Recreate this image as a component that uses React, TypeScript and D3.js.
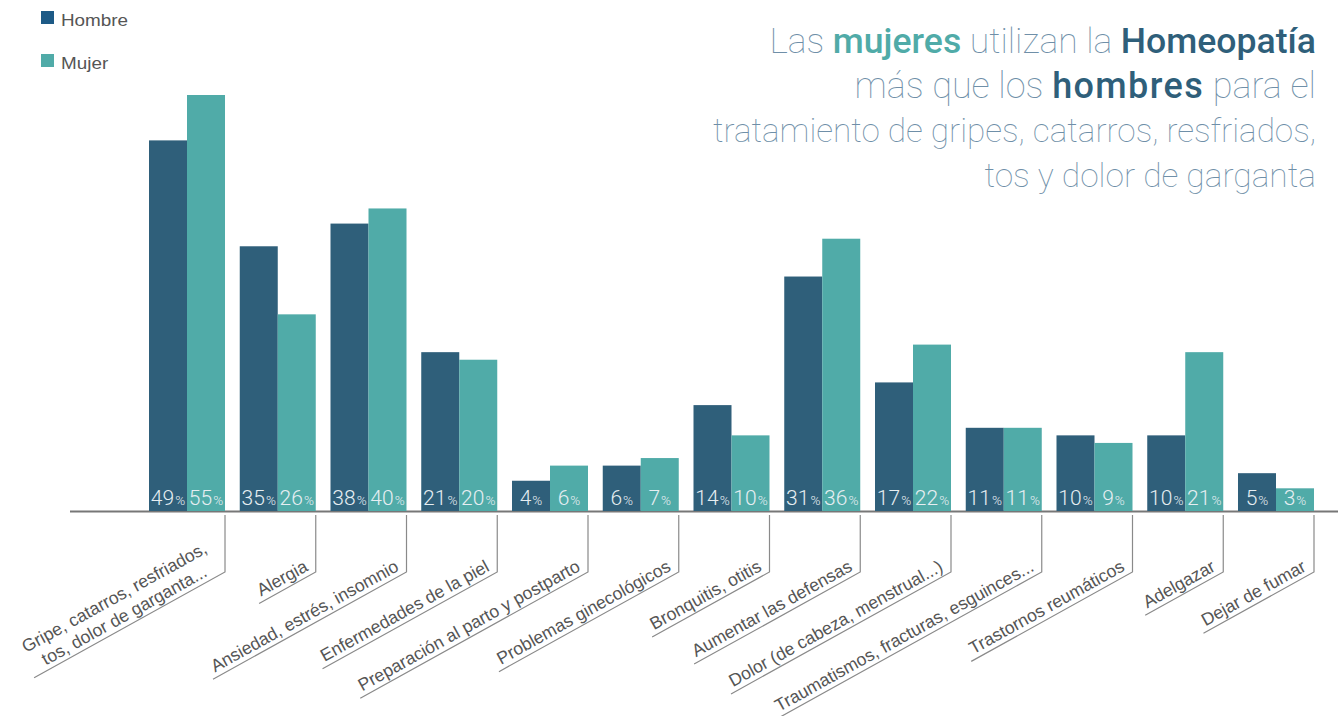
import React, { useEffect, useRef } from 'react';
import * as d3 from 'd3';

const categories = [
  'Gripe', 'Alergia', 'Ansiedad', 'Piel', 'Parto', 'Gineco', 'Bronquitis',
  'Defensas', 'Dolor', 'Traumatismos', 'Reumaticos', 'Adelgazar', 'Fumar',
];
const categoryLabels: string[][] = [
  ['Gripe, catarros, resfriados,', 'tos, dolor de garganta...'],
  ['Alergia'],
  ['Ansiedad, estrés, insomnio'],
  ['Enfermedades de la piel'],
  ['Preparación al parto y postparto'],
  ['Problemas ginecológicos'],
  ['Bronquitis, otitis'],
  ['Aumentar las defensas'],
  ['Dolor (de cabeza, menstrual...)'],
  ['Traumatismos, fracturas, esguinces...'],
  ['Trastornos reumáticos'],
  ['Adelgazar'],
  ['Dejar de fumar'],
];
const hombreValues = [49, 35, 38, 21, 4, 6, 14, 31, 17, 11, 10, 10, 5];
const mujerValues = [55, 26, 40, 20, 6, 7, 10, 36, 22, 11, 9, 21, 3];
const seriesNames = ['Hombre', 'Mujer'];
const titleLines: { t: string; k: 'l' | 'm' | 'h' }[][] = [
  [{ t: 'Las ', k: 'l' }, { t: 'mujeres', k: 'm' }, { t: ' utilizan la ', k: 'l' }, { t: 'Homeopatía', k: 'h' }],
  [{ t: 'más que los ', k: 'l' }, { t: 'hombres', k: 'h' }, { t: ' para el', k: 'l' }],
  [{ t: 'tratamiento de gripes, catarros, resfriados,', k: 'l' }],
  [{ t: 'tos y dolor de garganta', k: 'l' }],
];
const titleSizes = [35.6, 36, 33.3, 33.5];

const COLORS: Record<string, string> = { Hombre: '#2f5f7a', Mujer: '#50aba8' };
const LEGEND_COLORS: Record<string, string> = { Hombre: '#1d5a86', Mujer: '#50aba8' };
const TITLE_COLORS = { l: '#6f8fa8', m: '#50aba8', h: '#2f5f7a' };

export default function App() {
  const ref = useRef<SVGSVGElement | null>(null);

  useEffect(() => {
    const svg = d3.select(ref.current);
    svg.selectAll('*').remove();
    const W = 1338;
    const baseY = 511;

    const x = d3.scaleBand<string>().domain(categories).range([149, 1314]).paddingInner(0.1625).paddingOuter(0);
    const xs = d3.scaleBand<string>().domain(seriesNames).range([0, x.bandwidth()]);
    const y = d3.scaleLinear().domain([0, 55]).range([baseY, 95]);

    const data = categories.map((c, i) => ({ c, i, vals: [hombreValues[i], mujerValues[i]] }));

    // axis line
    svg.append('line').attr('x1', 70).attr('x2', W).attr('y1', baseY + 0.5).attr('y2', baseY + 0.5)
      .attr('stroke', '#777').attr('stroke-width', 2);

    // bars
    const g = svg.append('g');
    const groups = g.selectAll('g.grp').data(data).join('g').attr('transform', d => `translate(${x(d.c)},0)`);
    groups.selectAll('rect').data(d => d.vals.map((v, j) => ({ v, s: seriesNames[j] }))).join('rect')
      .attr('x', d => xs(d.s)!)
      .attr('width', xs.bandwidth())
      .attr('y', d => y(d.v))
      .attr('height', d => baseY - y(d.v))
      .attr('fill', d => COLORS[d.s]);

    const vt = groups.selectAll('text.val').data(d => d.vals.map((v, j) => ({ v, s: seriesNames[j] }))).join('text')
      .attr('class', 'val')
      .attr('x', d => xs(d.s)! + xs.bandwidth() / 2)
      .attr('y', baseY - 6)
      .attr('text-anchor', 'middle')
      .attr('fill', '#e6eef2')
      .style('font-family', 'Roboto, "Liberation Sans", sans-serif')
      .style('font-weight', 300);
    vt.append('tspan').attr('font-size', 21).text(d => String(d.v));
    vt.append('tspan').attr('font-size', 13.5).attr('dx', 1).text('%');

    // category labels with leader lines
    const ang = 29;
    const rad = (ang * Math.PI) / 180;
    const cornerY = 572;
    data.forEach((d, i) => {
      const tx = x(d.c)! + x.bandwidth();
      const lg = svg.append('g');
      const lines = categoryLabels[i];
      const tg = lg.append('g');
      const texts = lines.map(() => tg.append('text'));
      lines.forEach((ln, k) => {
        texts[k].text(ln)
          .attr('text-anchor', 'middle')
          .attr('font-size', 17.6)
          .attr('fill', '#555')
          .style('font-family', '"Liberation Sans", Arial, sans-serif');
      });
      const maxW = d3.max(texts, t => (t.node() as SVGTextElement).getComputedTextLength()) || 0;
      const L = maxW + 10;
      const ex = tx - L * Math.cos(rad);
      const ey = cornerY + L * Math.sin(rad);
      lg.append('path')
        .attr('d', `M${tx},${baseY + 4}L${tx},${cornerY}L${ex},${ey}`)
        .attr('fill', 'none').attr('stroke', '#8a8a8a').attr('stroke-width', 1.2);
      const mx = (tx + ex) / 2, my = (cornerY + ey) / 2;
      tg.attr('transform', `translate(${mx},${my}) rotate(${-ang})`);
      texts.forEach((t, k) => t.attr('x', 0).attr('y', -5 - (lines.length - 1 - k) * 20.5));
    });

    // legend
    const lg = svg.append('g');
    seriesNames.forEach((s, j) => {
      lg.append('rect').attr('x', 41).attr('y', 11 + j * 43).attr('width', 13).attr('height', 13).attr('fill', LEGEND_COLORS[s]);
      lg.append('text').attr('transform', `translate(61,${25.5 + j * 43}) scale(1.18,1)`).text(s)
        .attr('font-size', 16).attr('fill', '#555')
        .style('font-family', '"Liberation Sans", Arial, sans-serif');
    });

    // title
    const tt = svg.append('g');
    titleLines.forEach((ln, k) => {
      const t = tt.append('text').attr('x', 1316).attr('y', 53 + k * 44.5).attr('text-anchor', 'end')
        .attr('font-size', titleSizes[k])
        .style('font-family', 'Roboto, "Liberation Sans", sans-serif');
      ln.forEach(seg => {
        const sp = t.append('tspan').text(seg.t).attr('fill', TITLE_COLORS[seg.k])
          .style('font-weight', seg.k === 'l' ? 100 : 500);
        if (seg.t === 'hombres') sp.attr('letter-spacing', 1.4);
      });
    });
  }, []);

  return (
    <svg ref={ref} width={1338} height={716}
      style={{ position: 'absolute', left: 0, top: 0, background: '#fff' }} />
  );
}
